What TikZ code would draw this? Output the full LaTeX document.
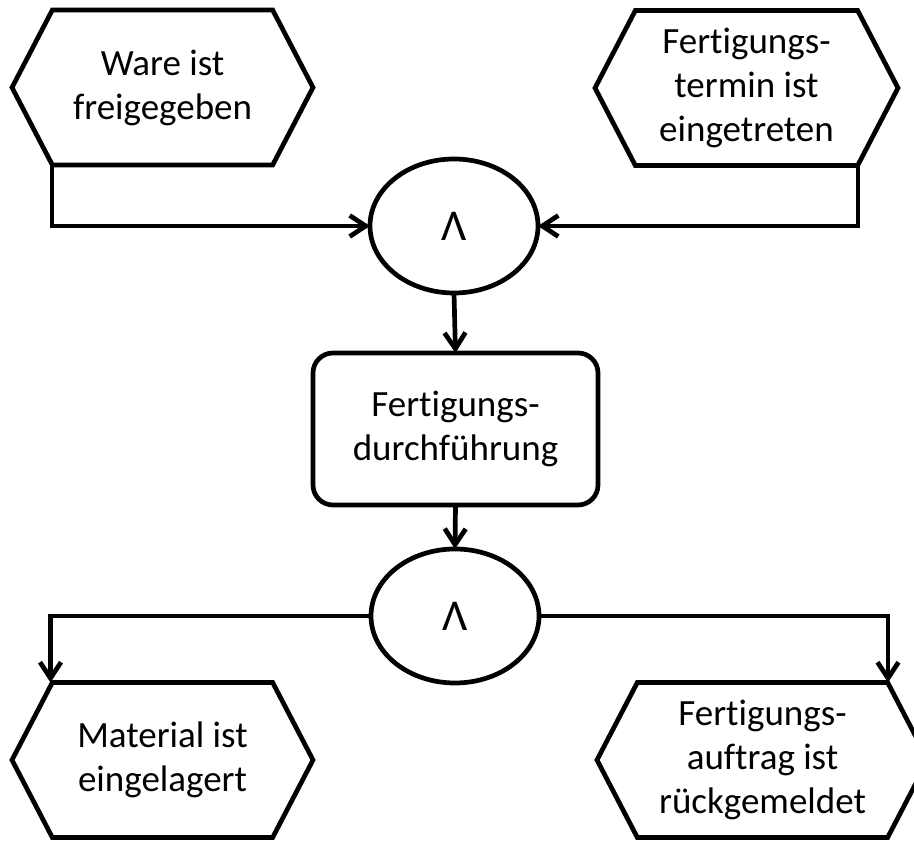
\documentclass[tikz,border=0pt]{standalone}
\usepackage{fontspec}
\setmainfont{Carlito}[Ligatures=NoCommon]
\usepackage{tikz}
\usetikzlibrary{arrows.meta,shapes.symbols,shapes.geometric}

\begin{document}
\begin{tikzpicture}[x=1pt,y=1pt,line width=4.7pt,
    every node/.style={font=\fontsize{37}{44}\selectfont,align=center,inner sep=0pt,outer sep=0pt},
    ereignis/.style={draw,signal,signal to=west and east,signal pointer angle=125,minimum height=155pt},
    und/.style={draw,ellipse,minimum width=168pt,minimum height=134pt,font=\fontsize{44}{50}\selectfont},
    funktion/.style={draw,rectangle,rounded corners=20pt,minimum width=285pt,minimum height=152pt},
    pfeil/.style={-{Straight Barb[length=16pt,width=21pt]}}]
    \useasboundingbox (0,0) rectangle (914,841);
    \node[ereignis,minimum width=301pt](ware) at (162.5,753.5){Ware ist\\freigegeben};
    \node[ereignis,minimum width=303pt](termin) at (746.5,753){Fertigungs-\\termin ist\\eingetreten};
    \node[und](und1) at (454,615){Λ};
    \node[funktion](fd) at (455.5,412){Fertigungs-\\durchführung};
    \node[und](und2) at (455,225){Λ};
    \node[ereignis,minimum width=301pt](mat) at (162.5,81){Material ist\\eingelagert};
    \node[ereignis,minimum width=331pt](fa) at (762.5,81){Fertigungs-\\auftrag ist\\rückgemeldet};
    \draw[pfeil] ([xshift=-110.5pt]ware.south) |- (und1.west);
    \draw[pfeil] ([xshift=111.5pt]termin.south) |- (und1.east);
    \draw[pfeil] (und1.south) -- (fd.north);
    \draw[pfeil] (fd.south) -- (und2.north);
    \draw[pfeil] (und2.west) -| ([xshift=-112pt]mat.north);
    \draw[pfeil] (und2.east) -| ([xshift=125.5pt]fa.north);
\end{tikzpicture}
\end{document}
